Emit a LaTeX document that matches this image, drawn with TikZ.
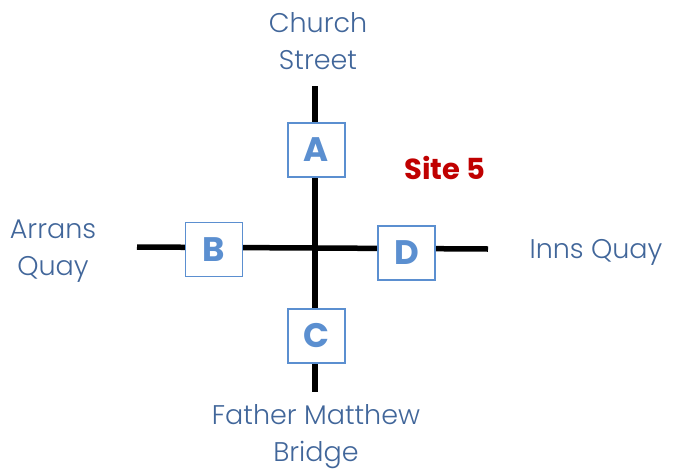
\documentclass[tikz,border=0pt]{standalone}
\usepackage{fontspec}
\setmainfont{Poppins}
\newfontfamily\lightfont{Poppins Light}
\definecolor{labelblue}{HTML}{41669A}
\definecolor{boxblue}{HTML}{5B8FD0}
\definecolor{sitered}{HTML}{C00000}
\tikzset{
  road/.style={line width=5.5pt, black},
  sitebox/.style={draw=boxblue, line width=1.8pt, fill=white, minimum width=57pt, minimum height=54pt, inner sep=0pt, text=boxblue, font=\fontsize{34}{34}\selectfont\bfseries},
  streetlabel/.style={text=labelblue, align=center, font=\lightfont\fontsize{27}{37}\selectfont, inner sep=0pt}
}
\begin{document}
\begin{tikzpicture}[x=1pt,y=-1pt]
\useasboundingbox (0,0) rectangle (673,472);
\coordinate (N) at (315,86);
\coordinate (S) at (315,392);
\coordinate (W) at (137,247);
\coordinate (E) at (488,249);
\coordinate (X) at (315,248);
\draw[road] (N) -- (S);
\draw[road] (W) -- (X) -- (E);
\node[sitebox] (A) at (316.5,150) {A};
\node[sitebox] (B) at (214,249.5) {B};
\node[sitebox] (D) at (406.5,253) {D};
\node[sitebox] (C) at (316.5,336) {C};
\node[text=sitered, font=\fontsize{29}{29}\selectfont\bfseries, inner sep=0pt] (site) at (445,168) {Site 5};
\node[streetlabel] (church) at (318,41) {Church\\Street};
\node[streetlabel] (arrans) at (53,251) {Arrans\\Quay};
\node[streetlabel] (inns) at (596,252) {Inns Quay};
\node[streetlabel] (father) at (316,437) {Father Matthew\\Bridge};
\end{tikzpicture}
\end{document}
